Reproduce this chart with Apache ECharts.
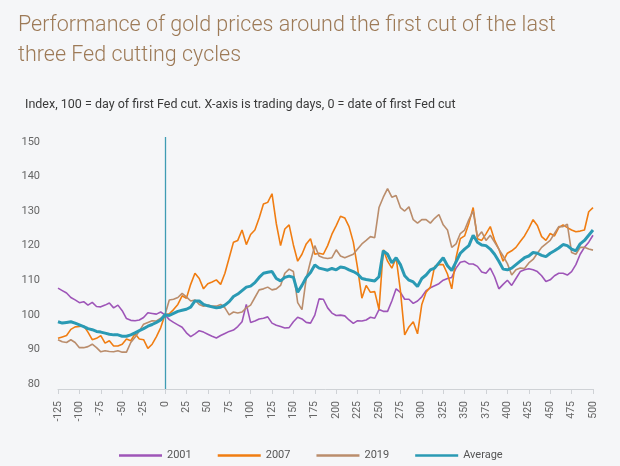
<!DOCTYPE html>
<html>
<head>
<meta charset="utf-8">
<script src="https://cdn.jsdelivr.net/npm/echarts@6/dist/echarts.min.js"></script>
<style>
html,body{margin:0;padding:0;background:#f5f6f8;}
#chart{width:620px;height:466px;}
</style>
</head>
<body>
<div id="chart"></div>
<script>
// Trading days relative to first Fed cut (every 5th day)
const days = [-125,-120,-115,-110,-105,-100,-95,-90,-85,-80,-75,-70,-65,-60,-55,-50,-45,-40,-35,-30,-25,-20,-15,-10,-5,
0,5,10,15,20,25,30,35,40,45,50,55,60,65,70,75,80,85,90,95,100,105,110,115,120,125,130,135,140,145,150,155,160,165,170,175,
180,185,190,195,200,205,210,215,220,225,230,235,240,245,250,255,260,265,270,275,280,285,290,295,300,305,310,315,320,325,
330,335,340,345,350,355,360,365,370,375,380,385,390,395,400,405,410,415,420,425,430,435,440,445,450,455,460,465,470,475,
480,485,490,495,500];

const s2001 = [107.7,107.0,106.3,105.0,104.3,103.5,103.8,102.8,103.6,102.4,102.3,102.8,103.4,102.0,102.8,101.2,98.9,98.4,98.3,98.5,99.2,100.6,100.4,100.2,100.8,
100.0,98.6,97.8,97.1,96.4,94.8,93.7,94.5,95.4,95.0,94.4,93.8,93.3,94.0,94.6,95.2,95.6,96.6,98.0,103.0,97.8,98.2,98.8,99.0,99.4,97.6,97.0,96.6,96.2,96.3,98.0,
99.3,98.8,97.8,97.6,99.9,104.6,104.5,102.0,100.5,99.8,99.9,99.7,98.5,97.5,98.3,98.2,98.5,99.3,99.0,101.5,101.0,101.0,104.0,107.5,106.5,104.5,104.5,103.3,104.0,105.2,
107.0,107.8,108.4,109.0,110.0,110.5,110.8,113.5,115.2,115.5,114.7,114.7,114.0,112.4,112.0,113.5,111.0,107.5,108.8,110.0,108.5,110.5,112.5,113.0,113.3,113.0,112.5,111.3,109.6,110.1,
111.3,112.0,112.0,111.5,112.5,114.5,117.5,119.5,121.0,123.0];

const s2007 = [93.2,93.6,94.0,95.8,96.5,96.6,96.8,95.0,92.8,93.2,94.0,91.8,92.5,91.0,91.0,91.5,93.0,92.5,94.5,93.0,92.8,90.3,91.5,93.7,96.3,
100.0,100.3,101.5,103.0,105.5,104.8,108.8,112.0,110.5,107.5,109.0,109.5,110.1,108.8,112.0,116.5,121.0,121.5,124.5,120.3,123.2,124.5,128.0,132.0,132.5,135.0,126.4,120.0,124.8,126.0,120.2,
115.5,117.5,120.5,122.0,117.5,117.8,117.5,120.0,123.3,125.8,128.5,128.0,125.5,121.0,113.5,104.8,108.5,106.5,106.7,101.5,118.8,115.5,113.5,116.5,107.0,94.2,96.5,98.0,94.5,103.0,
106.5,108.0,114.0,114.5,114.5,111.8,107.5,116.5,122.0,122.8,126.5,131.0,122.0,121.5,123.4,125.5,121.6,119.0,115.5,117.8,118.5,119.5,121.2,122.8,125.0,127.5,125.8,122.6,121.5,123.5,
122.8,125.2,126.0,125.2,124.5,124.0,124.2,124.5,129.8,131.0];

const s2019 = [92.8,92.2,92.0,92.8,92.0,90.5,90.5,90.8,91.5,90.5,89.3,89.6,89.4,89.3,89.6,89.2,89.2,92.0,93.5,95.3,97.3,97.8,98.3,98.2,99.0,
100.0,104.3,104.5,105.0,106.2,105.2,104.0,104.3,103.0,102.5,102.8,102.5,102.5,103.0,102.0,100.0,100.8,100.5,100.8,102.0,102.8,105.0,107.2,107.5,108.0,107.2,107.5,108.5,112.0,113.2,112.5,
103.5,101.5,110.5,115.5,120.0,117.0,116.5,116.3,116.5,118.8,117.0,116.5,117.0,117.5,119.0,120.5,121.5,122.6,122.3,131.0,134.0,136.5,134.0,134.5,131.0,130.0,131.2,127.5,126.5,127.5,
127.5,126.5,127.9,129.0,126.0,124.5,119.5,120.5,123.5,124.5,127.5,130.0,122.5,124.0,121.5,123.0,121.0,119.0,117.0,114.8,111.5,113.0,113.5,113.4,115.0,116.0,117.8,119.5,120.5,121.5,
123.5,125.5,125.5,126.2,118.0,117.5,119.5,119.5,119.0,118.7];

const sAverage = [98.0,97.6,97.8,98.0,97.6,97.1,96.6,96.0,95.7,95.2,95.0,94.7,94.4,94.2,94.2,93.8,93.8,94.2,94.8,95.4,96.0,96.7,97.2,97.8,98.5,
100.0,99.8,100.4,101.0,101.3,101.6,102.2,104.0,104.0,103.0,102.6,102.3,102.0,102.2,102.8,103.8,105.3,106.0,107.0,108.0,108.3,109.3,110.8,112.0,112.3,112.5,110.5,109.8,110.8,111.2,110.8,
106.5,108.5,110.8,112.2,114.4,113.5,113.2,112.9,113.4,113.0,113.8,113.6,113.0,112.5,111.8,110.5,110.2,110.0,109.8,111.0,118.5,117.5,115.0,116.5,114.5,111.3,110.0,109.5,108.2,110.5,
111.5,113.0,113.5,115.0,116.5,114.2,112.8,115.3,117.8,119.0,120.0,123.0,121.0,120.2,120.0,119.0,117.5,115.5,113.2,113.0,113.5,114.5,115.5,116.5,117.0,118.0,117.8,117.2,116.8,117.8,
118.5,119.3,120.3,120.0,119.0,118.5,120.5,121.5,123.0,124.5];

const seriesNames = ['2001','2007','2019','Average'];
const yTickValues = [80,90,100,110,120,130,140,150];
const fedCutDay = [0];

const colors = ['#9e55b8','#f07d12','#ba8d6c','#2a9ab4'];
const widths = [1.6,1.6,1.6,3];
const allSeries = [s2001,s2007,s2019,sAverage];
const cutLineColor = '#3f9cb3';

function pairs(vals){ return days.map((d,i)=>[d, vals[i]]); }

const series = seriesNames.map((name,i)=>({
  name: name,
  type: 'line',
  data: pairs(allSeries[i]),
  showSymbol: false,
  symbol: 'none',
  color: colors[i],
  lineStyle: {width: widths[i], color: colors[i]},
  z: i === 3 ? 5 : 2,
  animation: false
}));
series[3].markLine = {
  silent: true,
  symbol: ['none','none'],
  label: {show: false},
  lineStyle: {color: cutLineColor, width: 1.3, type: 'solid', opacity: 1},
  data: fedCutDay.map(d=>({xAxis: d}))
};

const chart = echarts.init(document.getElementById('chart'), null, {renderer: 'canvas'});
chart.setOption({
  backgroundColor: '#f5f6f8',
  animation: false,
  title: [{
    text: 'Performance of gold prices around the first cut of the last\nthree Fed cutting cycles',
    left: 13, top: 6,
    textStyle: {fontFamily: 'Roboto', fontWeight: 300, fontSize: 21.5, lineHeight: 30, color: '#9d7a57'}
  },{
    text: 'Index, 100 = day of first Fed cut. X-axis is trading days, 0 = date of first Fed cut',
    left: 20, top: 93,
    textStyle: {fontFamily: 'Roboto', fontWeight: 400, fontSize: 12.5, color: '#3a3a3a'}
  }],
  legend: {
    data: seriesNames,
    left: 114, bottom: 0,
    icon: 'rect', itemWidth: 43, itemHeight: 2.5, itemGap: 26,
    textStyle: {fontFamily: 'Roboto', fontSize: 11, color: '#555555'}
  },
  grid: {left: 58, right: 27, top: 137, bottom: 77, containLabel: false},
  xAxis: {
    type: 'value', min: -125, max: 500, interval: 25,
    axisLine: {show: true, onZero: false, lineStyle: {color: '#cfd2d6', width: 1}},
    axisTick: {show: true, length: 5, lineStyle: {color: '#cfd2d6'}},
    splitLine: {show: false},
    axisLabel: {rotate: 90, margin: 12, fontFamily: 'Roboto', fontSize: 10.5, color: '#666666'}
  },
  yAxis: {
    type: 'value', min: 78.55, max: 151.4,
    axisLine: {show: false, onZero: false}, axisTick: {show: false}, splitLine: {show: false},
    axisLabel: {customValues: yTickValues, margin: 18, fontFamily: 'Roboto', fontSize: 11, color: '#666666'}
  },
  series: series
});
</script>
</body>
</html>
